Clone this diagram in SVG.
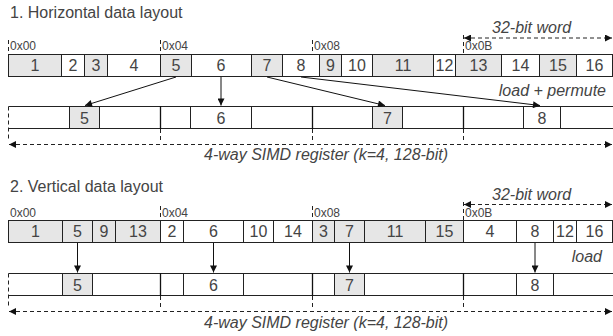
<svg xmlns="http://www.w3.org/2000/svg" width="613" height="336" viewBox="0 0 613 336">
<defs>
<marker id="ah" viewBox="0 0 10 10" refX="10" refY="5" markerWidth="8" markerHeight="7" orient="auto-start-reverse" markerUnits="userSpaceOnUse"><path d="M0,0 L10,5 L0,10 z" fill="#111"/></marker>
<style>
text{font-family:"Liberation Sans",Arial,sans-serif;fill:#444}
.t{font-size:16px}
.c{font-size:16px;text-anchor:middle}
.h{font-size:12px}
.i{font-size:16px;font-style:italic}
.g{fill:#e6e6e6;stroke:#222;stroke-width:1}
.w{fill:#fff;stroke:#222;stroke-width:1}
.ln{stroke:#111;stroke-width:1.3;fill:none}
.rl{stroke:#222;stroke-width:1;fill:none}
.d{stroke:#222;stroke-width:1;stroke-dasharray:4 3;fill:none}
.a{stroke:#111;stroke-width:1;fill:none;marker-end:url(#ah)}
.da{stroke:#222;stroke-width:1;stroke-dasharray:4 3;fill:none;marker-start:url(#ah);marker-end:url(#ah)}
</style>
</defs>

<!-- Section 1 -->
<text class="t" x="10" y="18">1. Horizontal data layout</text>
<g id="h-markers">
<path class="d" d="M8.5,40V54M160.5,40V54M312.5,40V54M463.5,35V54"/>
<text class="h" x="10" y="50">0x00</text>
<text class="h" x="162" y="50">0x04</text>
<text class="h" x="314" y="50">0x08</text>
<text class="h" x="465" y="50">0x0B</text>
</g>
<g id="h-word">
<text class="i" x="492" y="33">32-bit word</text>
</g>
<g id="h-row">
<g id="h1"><rect class="g" x="8.5" y="54.5" width="53" height="22"/><text class="c" x="35" y="70.5">1</text></g>
<g id="h2"><rect class="w" x="61.5" y="54.5" width="23" height="22"/><text class="c" x="73" y="70.5">2</text></g>
<g id="h3"><rect class="g" x="84.5" y="54.5" width="23" height="22"/><text class="c" x="96" y="70.5">3</text></g>
<g id="h4"><rect class="w" x="107.5" y="54.5" width="53" height="22"/><text class="c" x="134" y="70.5">4</text></g>
<g id="h5"><rect class="g" x="160.5" y="54.5" width="31" height="22"/><text class="c" x="176" y="70.5">5</text></g>
<g id="h6"><rect class="w" x="191.5" y="54.5" width="60" height="22"/><text class="c" x="221" y="70.5">6</text></g>
<g id="h7"><rect class="g" x="251.5" y="54.5" width="31" height="22"/><text class="c" x="267" y="70.5">7</text></g>
<g id="h8"><rect class="w" x="282.5" y="54.5" width="37" height="22"/><text class="c" x="301" y="70.5">8</text></g>
<g id="h9"><rect class="g" x="319.5" y="54.5" width="22" height="22"/><text class="c" x="330.5" y="70.5">9</text></g>
<g id="h10"><rect class="w" x="341.5" y="54.5" width="31" height="22"/><text class="c" x="357" y="70.5">10</text></g>
<g id="h11"><rect class="g" x="372.5" y="54.5" width="61" height="22"/><text class="c" x="403" y="70.5">11</text></g>
<g id="h12"><rect class="w" x="433.5" y="54.5" width="22" height="22"/><text class="c" x="444.5" y="70.5">12</text></g>
<g id="h13"><rect class="g" x="455.5" y="54.5" width="46" height="22"/><text class="c" x="478.5" y="70.5">13</text></g>
<g id="h14"><rect class="w" x="501.5" y="54.5" width="38" height="22"/><text class="c" x="520.5" y="70.5">14</text></g>
<g id="h15"><rect class="g" x="539.5" y="54.5" width="37" height="22"/><text class="c" x="558" y="70.5">15</text></g>
<g id="h16"><rect class="w" x="576.5" y="54.5" width="36" height="22"/><text class="c" x="594.5" y="70.5">16</text></g>
</g>
<g id="h-register">
<path class="rl" d="M8.5,106.5H613M8.5,128.5H613"/>
<path class="d" d="M8.5,106.5V141"/>
<rect class="g" x="69.5" y="106.5" width="30" height="22"/><text class="c" x="84.5" y="123.5">5</text>
<rect class="w" x="190.5" y="106.5" width="61" height="22"/><text class="c" x="221" y="123.5">6</text>
<rect class="g" x="372.5" y="106.5" width="30" height="22"/><text class="c" x="387.5" y="123.5">7</text>
<rect class="w" x="523.5" y="106.5" width="37" height="22"/><text class="c" x="542" y="123.5">8</text>
<path class="ln" d="M160.5,106V129M312.5,106V129M463.5,106V129"/>
<path class="d" d="M160.5,129V140M312.5,129V140M463.5,129V140"/>
</g>
<g id="h-connectors">
<path class="a" d="M176,77L85,105.5"/>
<path class="a" d="M221,77V105.5"/>
<path class="a" d="M267,77L385,105.5"/>
<path class="a" d="M301,77L540,105.5"/>
<path class="da" d="M464,38H612"/>
<path class="da" d="M9,144.5H612"/>
</g>
<text class="i" x="606" y="96" text-anchor="end">load + permute</text>
<text class="i" x="204" y="160">4-way SIMD register (k=4, 128-bit)</text>

<!-- Section 2 -->
<text class="t" x="10" y="191.5">2. Vertical data layout</text>
<g id="v-markers">
<path class="d" d="M160.5,206V220M312.5,206V220M463.5,202V220"/>
<text class="h" x="10" y="217">0x00</text>
<text class="h" x="162" y="217">0x04</text>
<text class="h" x="314" y="217">0x08</text>
<text class="h" x="465" y="217">0x0B</text>
</g>
<g id="v-word">
<text class="i" x="492" y="200">32-bit word</text>
</g>
<g id="v-row">
<g id="v1"><rect class="g" x="8.5" y="220.5" width="54" height="22"/><text class="c" x="35.5" y="236.5">1</text></g>
<g id="v5"><rect class="g" x="62.5" y="220.5" width="30" height="22"/><text class="c" x="77.5" y="236.5">5</text></g>
<g id="v9"><rect class="g" x="92.5" y="220.5" width="23" height="22"/><text class="c" x="104" y="236.5">9</text></g>
<g id="v13"><rect class="g" x="115.5" y="220.5" width="45" height="22"/><text class="c" x="138" y="236.5">13</text></g>
<g id="v2"><rect class="w" x="160.5" y="220.5" width="23" height="22"/><text class="c" x="172" y="236.5">2</text></g>
<g id="v6"><rect class="w" x="183.5" y="220.5" width="60" height="22"/><text class="c" x="213.5" y="236.5">6</text></g>
<g id="v10"><rect class="w" x="243.5" y="220.5" width="30" height="22"/><text class="c" x="258.5" y="236.5">10</text></g>
<g id="v14"><rect class="w" x="273.5" y="220.5" width="39" height="22"/><text class="c" x="293" y="236.5">14</text></g>
<g id="v3"><rect class="g" x="312.5" y="220.5" width="22" height="22"/><text class="c" x="323.5" y="236.5">3</text></g>
<g id="v7"><rect class="g" x="334.5" y="220.5" width="30" height="22"/><text class="c" x="349.5" y="236.5">7</text></g>
<g id="v11"><rect class="g" x="364.5" y="220.5" width="61" height="22"/><text class="c" x="395" y="236.5">11</text></g>
<g id="v15"><rect class="g" x="425.5" y="220.5" width="38" height="22"/><text class="c" x="444.5" y="236.5">15</text></g>
<g id="v4"><rect class="w" x="463.5" y="220.5" width="53" height="22"/><text class="c" x="490" y="236.5">4</text></g>
<g id="v8"><rect class="w" x="516.5" y="220.5" width="37" height="22"/><text class="c" x="535" y="236.5">8</text></g>
<g id="v12"><rect class="w" x="553.5" y="220.5" width="23" height="22"/><text class="c" x="565" y="236.5">12</text></g>
<g id="v16"><rect class="w" x="576.5" y="220.5" width="36" height="22"/><text class="c" x="594.5" y="236.5">16</text></g>
</g>
<g id="v-register">
<path class="rl" d="M8.5,273.5H613M8.5,295.5H613"/>
<path class="d" d="M8.5,273.5V308"/>
<rect class="g" x="62.5" y="273.5" width="30" height="22"/><text class="c" x="77.5" y="290.5">5</text>
<rect class="w" x="183.5" y="273.5" width="60" height="22"/><text class="c" x="213.5" y="290.5">6</text>
<rect class="g" x="334.5" y="273.5" width="30" height="22"/><text class="c" x="349.5" y="290.5">7</text>
<rect class="w" x="516.5" y="273.5" width="37" height="22"/><text class="c" x="535" y="290.5">8</text>
<path class="ln" d="M160.5,273V296M312.5,273V296M463.5,273V296"/>
<path class="d" d="M160.5,296V307M312.5,296V307M463.5,296V307"/>
</g>
<g id="v-connectors">
<path class="a" d="M77.5,243V272.5"/>
<path class="a" d="M213.5,243V272.5"/>
<path class="a" d="M349.5,243V272.5"/>
<path class="a" d="M535,243V272.5"/>
<path class="da" d="M464,204.5H612"/>
<path class="da" d="M9,311.5H612"/>
</g>
<text class="i" x="602" y="262" text-anchor="end">load</text>
<text class="i" x="204" y="328">4-way SIMD register (k=4, 128-bit)</text>
</svg>
